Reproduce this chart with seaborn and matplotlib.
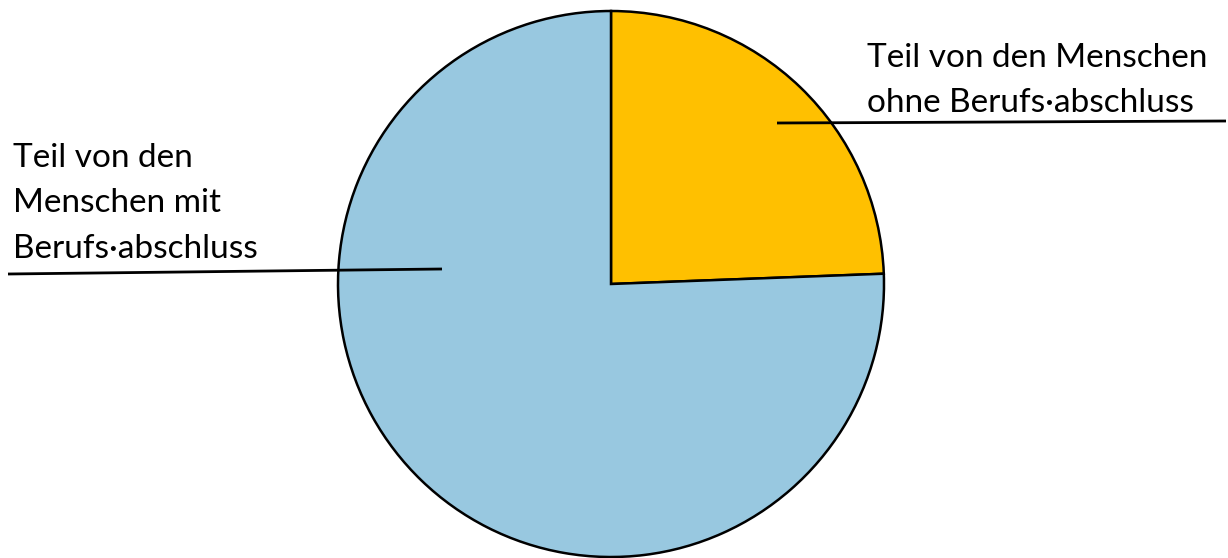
import numpy as np
import matplotlib
matplotlib.use("Agg")
import matplotlib.pyplot as plt
import seaborn as sns

# data
categories = ["ohne Berufs·abschluss", "mit Berufs·abschluss"]
shares = [24.4, 75.6]
colors = ["#FFC000", "#98C8E0"]
label_lines = [
    ["Teil von den Menschen", "ohne Berufs·abschluss"],
    ["Teil von den", "Menschen mit", "Berufs·abschluss"],
]

sns.set_theme(style="white")
plt.rcParams['font.family'] = ['Lato', 'DejaVu Sans']

W, H = 1228, 558
fig = plt.figure(figsize=(W / 100, H / 100), dpi=100)
ax = fig.add_axes([0, 0, 1, 1])
ax.set_xlim(0, W)
ax.set_ylim(0, H)
ax.set_aspect("equal")
ax.axis("off")

# pie in pixel coordinates (y up)
cx, cy, r = 611, H - 284, 273
ax.pie(shares, colors=colors, startangle=90, counterclock=False,
       center=(cx, cy), radius=r, frame=True,
       wedgeprops=dict(edgecolor="black", linewidth=1.8))
ax.set_xlim(0, W)
ax.set_ylim(0, H)
ax.axis("off")

# labels with underline leader lines
fs = 24
# right label
x0, base0 = 867, 67
for i, line in enumerate(label_lines[0]):
    ax.text(x0, H - (base0 + i * 45), line, fontsize=fs, va="baseline", ha="left", color="black")
ax.plot([777, 1226], [H - 123, H - 121], color="black", lw=2, solid_capstyle="butt")

# left label
x1, base1 = 13, 167
for i, line in enumerate(label_lines[1]):
    ax.text(x1, H - (base1 + i * 45.5), line, fontsize=fs, va="baseline", ha="left", color="black")
ax.plot([8, 442], [H - 274, H - 269], color="black", lw=2, solid_capstyle="butt")

fig.savefig("out.png", dpi=100)
